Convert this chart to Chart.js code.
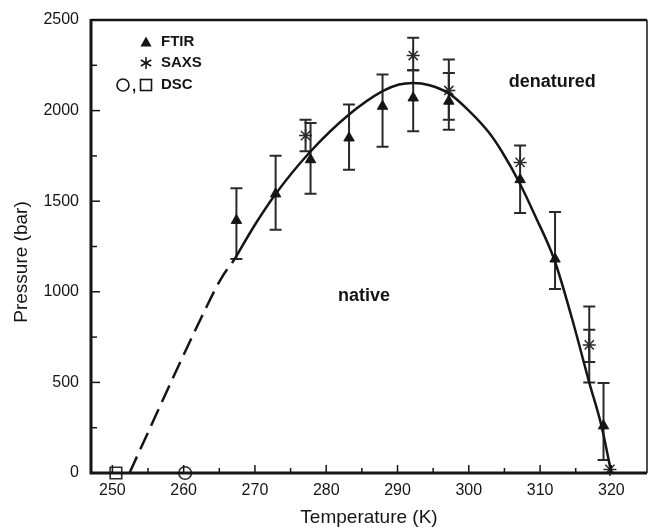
<!DOCTYPE html>
<html>
<head>
<meta charset="utf-8">
<script src="https://cdn.jsdelivr.net/npm/chart.js@4.4.0/dist/chart.umd.min.js"></script>
<style>
  html, body { margin: 0; padding: 0; background: #fff; }
</style>
</head>
<body>
<canvas id="phaseChart" width="648" height="529"></canvas>
<script>
// FTIR points (triangles) with error bars
const ftirT  = [267.4, 272.9, 277.8, 283.2, 287.9, 292.2, 297.2, 307.2, 312.1, 318.9];
const ftirP  = [1394, 1540, 1729, 1849, 2024, 2070, 2052, 1619, 1181, 260];
const ftirLo = [1181, 1343, 1541, 1674, 1800, 1886, 1895, 1435, 1015, 72];
const ftirHi = [1571, 1751, 1932, 2033, 2199, 2222, 2208, 1807, 1440, 496];

// SAXS points (asterisks)
const saxsT  = [277.1, 292.2, 297.2, 307.2, 316.9, 319.8];
const saxsP  = [1862, 2304, 2111, 1714, 707, 20];
const saxsLo = [1775, 2222, 1950, null, 613, null];
const saxsHi = [1950, 2402, 2282, null, 790, null];
// second (wider) bar drawn at 317 K
const extraT  = [316.9];
const extraLo = [499];
const extraHi = [919];

// DSC points
const dscCircleT = [260.2];
const dscCircleP = [0];
const dscSquareT = [250.5];
const dscSquareP = [0];

// fitted phase boundary: solid part and dashed extrapolation
const curveT = [267.1, 270, 272.9, 277.6, 283.2, 287.9, 290.2, 292.2, 294.5, 297.2, 300, 302.8, 304.7, 307.0, 309.3, 312.0, 314.5, 316.9, 318.6, 320.0];
const curveP = [1177, 1370, 1540, 1766, 1978, 2107, 2144, 2153, 2140, 2095, 2000, 1880, 1770, 1610, 1420, 1177, 850, 499, 262, 0];
const dashT  = [252.4, 256, 259.5, 263, 265.3, 267.1];
const dashP  = [0, 310, 610, 900, 1076, 1177];

const xTicks = [250, 260, 270, 280, 290, 300, 310, 320];
const yTicks = [0, 500, 1000, 1500, 2000, 2500];

const INK = '#151515';
const FONT = '"Liberation Sans", Arial, sans-serif';

function pts(xs, ys) {
  return xs.map((x, i) => ({ x: x, y: ys[i] }));
}

const decorPlugin = {
  id: 'decor',
  beforeDatasetsDraw(chart) {
    const ctx = chart.ctx;
    const xs = chart.scales.x, ys = chart.scales.y;
    ctx.save();
    ctx.strokeStyle = '#2a2a2a';
    ctx.lineWidth = 2;
    function bar(t, lo, hi) {
      if (lo == null || hi == null) return;
      const px = xs.getPixelForValue(t);
      const y1 = ys.getPixelForValue(lo), y2 = ys.getPixelForValue(hi);
      ctx.beginPath();
      ctx.moveTo(px, y1); ctx.lineTo(px, y2);
      ctx.moveTo(px - 6, y1); ctx.lineTo(px + 6, y1);
      ctx.moveTo(px - 6, y2); ctx.lineTo(px + 6, y2);
      ctx.stroke();
    }
    ftirT.forEach((t, i) => bar(t, ftirLo[i], ftirHi[i]));
    saxsT.forEach((t, i) => bar(t, saxsLo[i], saxsHi[i]));
    extraT.forEach((t, i) => bar(t, extraLo[i], extraHi[i]));
    ctx.restore();
  },
  afterDraw(chart) {
    const ctx = chart.ctx;
    const a = chart.chartArea;
    const xs = chart.scales.x, ys = chart.scales.y;
    ctx.save();
    ctx.strokeStyle = INK;
    // frame
    ctx.lineWidth = 2.5;
    ctx.beginPath(); ctx.moveTo(a.left, a.top); ctx.lineTo(a.right, a.top); ctx.stroke();
    ctx.lineWidth = 1.5;
    ctx.beginPath(); ctx.moveTo(a.right, a.top); ctx.lineTo(a.right, a.bottom); ctx.stroke();
    ctx.lineWidth = 3;
    ctx.beginPath(); ctx.moveTo(a.left, a.top - 1); ctx.lineTo(a.left, a.bottom); ctx.lineTo(a.right, a.bottom); ctx.stroke();
    // inward ticks
    ctx.lineWidth = 1.5;
    for (let v = 0; v <= 2500; v += 250) {
      const py = ys.getPixelForValue(v);
      const len = v % 500 === 0 ? 9 : 6;
      ctx.beginPath(); ctx.moveTo(a.left, py); ctx.lineTo(a.left + len, py); ctx.stroke();
    }
    for (let v = 250; v <= 320; v += 5) {
      const px = xs.getPixelForValue(v);
      const len = v % 10 === 0 ? 8 : 5;
      ctx.beginPath(); ctx.moveTo(px, a.bottom); ctx.lineTo(px, a.bottom - len); ctx.stroke();
    }
    // y axis title
    ctx.fillStyle = INK;
    ctx.font = '19px ' + FONT;
    ctx.textAlign = 'center';
    ctx.textBaseline = 'middle';
    ctx.save();
    ctx.translate(22, 262);
    ctx.rotate(-Math.PI / 2);
    ctx.fillText('Pressure (bar)', 0, 0);
    ctx.restore();
    // legend
    ctx.font = 'bold 15px ' + FONT;
    ctx.textAlign = 'left';
    const lx = 146, tx = 161;
    const rows = [42, 63, 85];
    ctx.beginPath();
    ctx.moveTo(lx, rows[0] - 5.5); ctx.lineTo(lx + 5.5, rows[0] + 4.5); ctx.lineTo(lx - 5.5, rows[0] + 4.5);
    ctx.closePath(); ctx.fill();
    ctx.fillText('FTIR', tx, rows[0]);
    ctx.lineWidth = 1.5;
    ctx.beginPath();
    for (let k = 0; k < 3; k++) {
      const ang = Math.PI / 2 + k * Math.PI / 3;
      ctx.moveTo(lx - 6 * Math.cos(ang), rows[1] - 6 * Math.sin(ang));
      ctx.lineTo(lx + 6 * Math.cos(ang), rows[1] + 6 * Math.sin(ang));
    }
    ctx.stroke();
    ctx.fillText('SAXS', tx, rows[1]);
    ctx.lineWidth = 1.6;
    ctx.beginPath(); ctx.arc(123, rows[2], 6, 0, Math.PI * 2); ctx.stroke();
    ctx.fillText(',', 132, rows[2] + 2);
    ctx.strokeRect(lx - 5.5, rows[2] - 5.5, 11, 11);
    ctx.fillText('DSC', tx, rows[2]);
    // region labels
    ctx.font = 'bold 18px ' + FONT;
    ctx.textAlign = 'center';
    ctx.fillText('native', xs.getPixelForValue(285.3), ys.getPixelForValue(974));
    ctx.fillText('denatured', xs.getPixelForValue(311.7), ys.getPixelForValue(2156));
    ctx.restore();
  }
};

const ctx = document.getElementById('phaseChart').getContext('2d');
const phaseChart = new Chart(ctx, {
  type: 'scatter',
  data: {
    datasets: [
      {
        label: 'fit',
        data: pts(curveT, curveP),
        showLine: true,
        borderColor: INK,
        borderWidth: 2.5,
        pointRadius: 0,
        cubicInterpolationMode: 'monotone',
        clip: false
      },
      {
        label: 'fit extrapolated',
        data: pts(dashT, dashP),
        showLine: true,
        borderColor: INK,
        borderWidth: 2.5,
        borderDash: [18, 8],
        pointRadius: 0,
        cubicInterpolationMode: 'monotone',
        clip: false
      },
      {
        label: 'FTIR',
        data: pts(ftirT, ftirP),
        pointStyle: 'triangle',
        pointRadius: 6,
        backgroundColor: INK,
        borderColor: INK,
        borderWidth: 1,
        clip: false
      },
      {
        label: 'SAXS',
        data: pts(saxsT, saxsP),
        pointStyle: 'star',
        pointRadius: 6.5,
        backgroundColor: 'rgba(0,0,0,0)',
        borderColor: '#2a2a2a',
        borderWidth: 1.5,
        clip: false
      },
      {
        label: 'DSC',
        data: pts(dscCircleT, dscCircleP),
        pointStyle: 'circle',
        pointRadius: 6.3,
        backgroundColor: 'rgba(0,0,0,0)',
        borderColor: '#2a2a2a',
        borderWidth: 1.6,
        clip: false
      },
      {
        label: 'DSC2',
        data: pts(dscSquareT, dscSquareP),
        pointStyle: 'rect',
        pointRadius: 8.2,
        backgroundColor: 'rgba(0,0,0,0)',
        borderColor: '#2a2a2a',
        borderWidth: 1.6,
        clip: false
      }
    ]
  },
  options: {
    responsive: false,
    animation: false,
    layout: { autoPadding: false, padding: { top: 20, right: 1, left: 0, bottom: 0 } },
    plugins: {
      legend: { display: false },
      tooltip: { enabled: false }
    },
    scales: {
      x: {
        type: 'linear',
        min: 247,
        max: 325,
        afterBuildTicks: s => { s.ticks = xTicks.map(v => ({ value: v })); },
        afterFit: s => { s.height = 56; s.paddingRight = 0; s.paddingLeft = 0; },
        grid: { display: false, drawTicks: false },
        border: { display: false },
        ticks: {
          padding: 8,
          color: INK,
          font: { family: FONT, size: 16 },
          maxRotation: 0,
          callback: v => String(v)
        },
        title: {
          display: true,
          text: 'Temperature (K)',
          color: INK,
          font: { family: FONT, size: 19 },
          padding: { top: 0, bottom: 0 }
        }
      },
      y: {
        type: 'linear',
        min: 0,
        max: 2500,
        afterBuildTicks: s => { s.ticks = yTicks.map(v => ({ value: v })); },
        afterFit: s => { s.width = 91; s.paddingTop = 0; s.paddingBottom = 0; },
        grid: { display: false, drawTicks: false },
        border: { display: false },
        ticks: {
          padding: 12,
          color: INK,
          font: { family: FONT, size: 16 },
          callback: v => String(v)
        }
      }
    }
  },
  plugins: [decorPlugin]
});
</script>
</body>
</html>
